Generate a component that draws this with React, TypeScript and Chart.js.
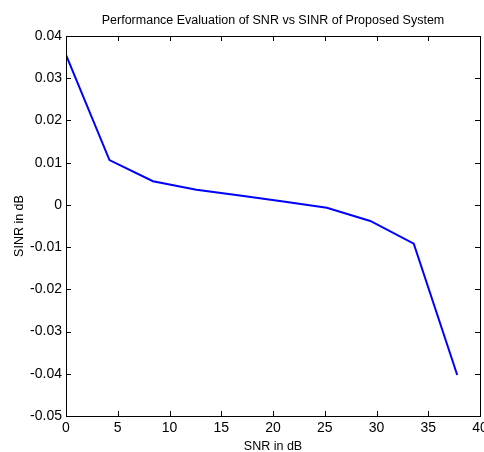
import React, { useEffect, useRef } from "react";
import { Chart, registerables } from "chart.js";

Chart.register(...registerables);

const TITLE = "Performance Evaluation of SNR vs SINR of Proposed System";
const X_LABEL = "SNR in dB";
const Y_LABEL = "SINR in dB";

const snrValues = [0, 4.2, 8.4, 12.6, 16.8, 21, 25.2, 29.4, 33.6, 37.8];
const sinrValues = [0.0355, 0.0106, 0.0056, 0.0036, 0.0022, 0.0008, -0.0007, -0.0038, -0.0092, -0.0403];

const X_MIN = 0;
const X_MAX = 40;
const X_STEP = 5;
const Y_MIN = -0.05;
const Y_MAX = 0.04;
const Y_STEP = 0.01;

const FONT = "'Liberation Sans', Arial, sans-serif";

const boxTicks = {
  id: "boxTicks",
  afterDatasetsDraw(chart: any) {
    const { ctx, chartArea, scales } = chart;
    const { left, right, top, bottom } = chartArea;
    const len = 5;
    ctx.save();
    ctx.strokeStyle = "#000";
    ctx.lineWidth = 1;
    ctx.beginPath();
    for (const t of scales.x.ticks) {
      const px = Math.round(scales.x.getPixelForValue(t.value)) + 0.5;
      ctx.moveTo(px, bottom);
      ctx.lineTo(px, bottom - len);
      ctx.moveTo(px, top);
      ctx.lineTo(px, top + len);
    }
    for (const t of scales.y.ticks) {
      const py = Math.round(scales.y.getPixelForValue(t.value)) + 0.5;
      ctx.moveTo(left, py);
      ctx.lineTo(left + len, py);
      ctx.moveTo(right, py);
      ctx.lineTo(right - len, py);
    }
    ctx.stroke();
    ctx.strokeRect(Math.round(left) + 0.5, Math.round(top) + 0.5, Math.round(right - left), Math.round(bottom - top));
    ctx.restore();
  },
};

export default function App() {
  const ref = useRef<HTMLCanvasElement | null>(null);
  useEffect(() => {
    if (!ref.current) return;
    const chart = new Chart(ref.current, {
      type: "line",
      data: {
        datasets: [
          {
            data: snrValues.map((x, i) => ({ x, y: sinrValues[i] })),
            borderColor: "#0000ff",
            borderWidth: 2,
            pointRadius: 0,
            tension: 0,
            fill: false,
          },
        ],
      },
      options: {
        animation: false,
        responsive: false,
        layout: { padding: { left: 0, right: 4, top: 0, bottom: 0 } },
        plugins: {
          legend: { display: false },
          tooltip: { enabled: false },
          title: {
            display: true,
            fullSize: false,
            text: TITLE,
            color: "#000",
            font: { family: FONT, size: 12.5, weight: "normal", lineHeight: 1.2 },
            padding: { top: 13, bottom: 8 },
          },
        },
        scales: {
          x: {
            type: "linear",
            min: X_MIN,
            max: X_MAX,
            grid: { display: false, drawTicks: false },
            border: { display: false },
            ticks: {
              stepSize: X_STEP,
              color: "#000",
              padding: 4,
              maxRotation: 0,
              font: { family: FONT, size: 14 },
              callback: (v: any) => String(Math.round(Number(v) * 100) / 100),
            },
            title: {
              display: true,
              text: X_LABEL,
              color: "#000",
              font: { family: FONT, size: 12.5, lineHeight: 0.8 },
              padding: { top: 0, bottom: 0 },
            },
            afterFit: (s: any) => {
              s.height = 36;
              s.paddingLeft = 0;
              s.paddingRight = 0;
            },
          },
          y: {
            type: "linear",
            min: Y_MIN,
            max: Y_MAX,
            grid: { display: false, drawTicks: false },
            border: { display: false },
            ticks: {
              stepSize: Y_STEP,
              color: "#000",
              padding: 4,
              font: { family: FONT, size: 14 },
              callback: (v: any) => {
                const r = Math.round(Number(v) * 100) / 100;
                return r === 0 ? "0" : r.toFixed(2);
              },
            },
            title: {
              display: true,
              text: Y_LABEL,
              color: "#000",
              font: { family: FONT, size: 12.5, lineHeight: 1.2 },
              padding: { top: 12, bottom: 0 },
            },
            afterFit: (s: any) => {
              s.width = 66;
              s.paddingTop = 0;
              s.paddingBottom = 0;
            },
          },
        },
      },
      plugins: [boxTicks],
    });
    return () => chart.destroy();
  }, []);
  return (
    <div style={{ position: "absolute", left: 0, top: 0, width: 484, height: 452, background: "#fff" }}>
      <canvas ref={ref} width={484} height={452} />
    </div>
  );
}
